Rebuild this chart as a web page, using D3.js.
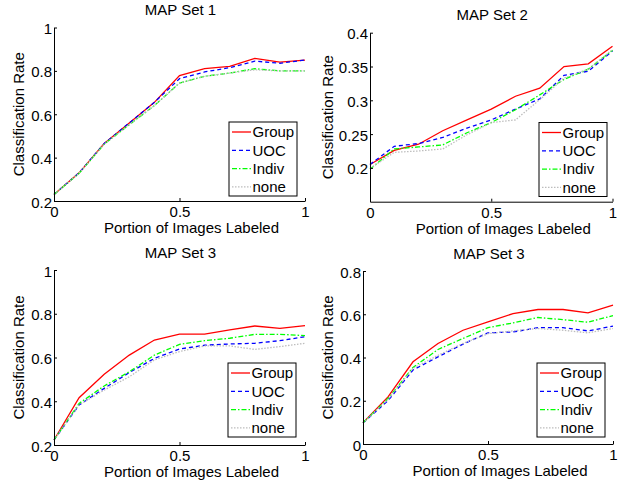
<!DOCTYPE html>
<html>
<head>
<meta charset="utf-8">
<script src="https://cdn.jsdelivr.net/npm/d3@7"></script>
<style>
  body { margin: 0; background: #fff; }
  text { font-family: "Liberation Sans", Arial, sans-serif; font-size: 15px; fill: #000; }
</style>
</head>
<body>
<svg id="chart" width="622" height="480"></svg>
<script>
// portion of images labeled
var portions = [0, 0.1, 0.2, 0.3, 0.4, 0.5, 0.6, 0.7, 0.8, 0.9, 1];
var seriesNames = ['Group', 'UOC', 'Indiv', 'none'];

// MAP Set 1
var set1Group = [0.23, 0.33, 0.465, 0.56, 0.655, 0.778, 0.81, 0.821, 0.858, 0.84, 0.85];
var set1UOC   = [0.23, 0.33, 0.465, 0.56, 0.655, 0.764, 0.795, 0.815, 0.845, 0.835, 0.85];
var set1Indiv = [0.23, 0.328, 0.462, 0.552, 0.64, 0.744, 0.775, 0.79, 0.81, 0.80, 0.80];
var set1None  = [0.23, 0.328, 0.462, 0.552, 0.64, 0.744, 0.775, 0.79, 0.805, 0.80, 0.80];

// MAP Set 2
var set2Group = [0.205, 0.226, 0.235, 0.255, 0.271, 0.287, 0.306, 0.318, 0.350, 0.354, 0.380];
var set2UOC   = [0.205, 0.232, 0.236, 0.245, 0.259, 0.271, 0.287, 0.302, 0.337, 0.343, 0.373];
var set2Indiv = [0.198, 0.228, 0.231, 0.234, 0.252, 0.267, 0.286, 0.308, 0.331, 0.346, 0.374];
var set2None  = [0.199, 0.223, 0.225, 0.228, 0.249, 0.267, 0.271, 0.301, 0.333, 0.346, 0.375];

// MAP Set 3 (left)
var set3Group = [0.223, 0.416, 0.523, 0.611, 0.68, 0.707, 0.707, 0.726, 0.744, 0.733, 0.746];
var set3UOC   = [0.223, 0.383, 0.459, 0.531, 0.596, 0.639, 0.656, 0.662, 0.665, 0.677, 0.695];
var set3Indiv = [0.223, 0.39, 0.47, 0.535, 0.611, 0.66, 0.677, 0.688, 0.706, 0.706, 0.70];
var set3None  = [0.223, 0.383, 0.451, 0.512, 0.589, 0.627, 0.653, 0.653, 0.637, 0.65, 0.665];

// MAP Set 3 (right)
var set4Group = [0.098, 0.218, 0.38, 0.465, 0.526, 0.565, 0.603, 0.622, 0.622, 0.606, 0.642];
var set4UOC   = [0.098, 0.2, 0.342, 0.403, 0.462, 0.514, 0.518, 0.538, 0.538, 0.523, 0.545];
var set4Indiv = [0.098, 0.21, 0.354, 0.437, 0.488, 0.538, 0.56, 0.585, 0.575, 0.563, 0.594];
var set4None  = [0.098, 0.206, 0.35, 0.41, 0.465, 0.51, 0.523, 0.534, 0.526, 0.514, 0.534];

var xTicks = [0, 0.5, 1];
var xTickLabels = ['0', '0.5', '1'];

var panels = [
  { title: 'MAP Set 1', series: [set1Group, set1UOC, set1Indiv, set1None],
    yDomain: [0.2, 1], yTicks: [0.2, 0.4, 0.6, 0.8, 1], yTickLabels: ['0.2', '0.4', '0.6', '0.8', '1'],
    x0: 54, x1: 305, y0: 27.5, y1: 201, yLabelGap: 30, legend: [229, 122] },
  { title: 'MAP Set 2', series: [set2Group, set2UOC, set2Indiv, set2None],
    yDomain: [0.15, 0.4], yTicks: [0.2, 0.25, 0.3, 0.35, 0.4], yTickLabels: ['0.2', '0.25', '0.3', '0.35', '0.4'],
    x0: 370, x1: 612.5, y0: 32.7, y1: 201.7, yLabelGap: 37, legend: [539, 122.5] },
  { title: 'MAP Set 3', series: [set3Group, set3UOC, set3Indiv, set3None],
    yDomain: [0.2, 1], yTicks: [0.2, 0.4, 0.6, 0.8, 1], yTickLabels: ['0.2', '0.4', '0.6', '0.8', '1'],
    x0: 54, x1: 305, y0: 270, y1: 445, yLabelGap: 30, legend: [228, 363] },
  { title: 'MAP Set 3', series: [set4Group, set4UOC, set4Indiv, set4None],
    yDomain: [0, 0.8], yTicks: [0, 0.2, 0.4, 0.6, 0.8], yTickLabels: ['0', '0.2', '0.4', '0.6', '0.8'],
    x0: 363, x1: 613, y0: 271, y1: 444, yLabelGap: 30, legend: [537, 363] }
];

var styles = [
  { color: '#ff0000', dash: null },
  { color: '#0000ff', dash: '4,3' },
  { color: '#00ff00', dash: '5,2,1.5,2' },
  { color: '#bdbdbd', dash: '1.5,1.5' }
];

var svg = d3.select('#chart');

panels.forEach(function(p) {
  var x = d3.scaleLinear().domain([0, 1]).range([p.x0, p.x1]);
  var y = d3.scaleLinear().domain(p.yDomain).range([p.y1, p.y0]);
  var g = svg.append('g');

  // title
  g.append('text')
    .attr('x', (p.x0 + p.x1) / 2 + 1)
    .attr('y', p.y0 - 12.5)
    .attr('text-anchor', 'middle')
    .text(p.title);

  // lines
  var line = d3.line()
    .x(function(d, i) { return x(portions[i]); })
    .y(function(d) { return y(d); });

  p.series.forEach(function(s, k) {
    g.append('path')
      .datum(s)
      .attr('d', line)
      .attr('fill', 'none')
      .attr('stroke', styles[k].color)
      .attr('stroke-width', 1.3)
      .attr('stroke-dasharray', styles[k].dash);
  });

  // axes (left and bottom only, ticks inward)
  var yAxis = d3.axisLeft(y).tickValues(p.yTicks)
    .tickFormat(function(d, i) { return p.yTickLabels[i]; })
    .tickSizeInner(-3).tickSizeOuter(0).tickPadding(2);
  var gy = g.append('g').attr('transform', 'translate(' + p.x0 + ',0)').call(yAxis);

  var xAxis = d3.axisBottom(x).tickValues(xTicks)
    .tickFormat(function(d, i) { return xTickLabels[i]; })
    .tickSizeInner(-3).tickSizeOuter(0).tickPadding(5);
  var gx = g.append('g').attr('transform', 'translate(0,' + p.y1 + ')').call(xAxis);

  [gx, gy].forEach(function(a) {
    a.attr('font-size', null).attr('font-family', null);
    a.selectAll('path').attr('stroke', '#000').attr('stroke-width', 1);
    a.selectAll('line').attr('stroke', '#000').attr('stroke-width', 1);
    a.selectAll('text').attr('fill', '#000');
  });
  gy.selectAll('text').attr('dy', '0.4em');
  gx.selectAll('text').attr('dy', '0.75em');

  // axis labels
  g.append('text')
    .attr('x', (p.x0 + p.x1) / 2 + 12)
    .attr('y', p.y1 + 32)
    .attr('text-anchor', 'middle')
    .text('Portion of Images Labeled');

  g.append('text')
    .attr('transform', 'translate(' + (p.x0 - p.yLabelGap) + ',' + ((p.y0 + p.y1) / 2) + ') rotate(-90)')
    .attr('text-anchor', 'middle')
    .text('Classification Rate');

  // legend
  var lx = p.legend[0], ly = p.legend[1];
  var leg = g.append('g').attr('transform', 'translate(' + lx + ',' + ly + ')');
  leg.append('rect')
    .attr('width', 68).attr('height', 74)
    .attr('fill', '#fff').attr('stroke', '#000').attr('stroke-width', 1);
  seriesNames.forEach(function(name, k) {
    var ry = 10 + k * 18.3;
    leg.append('line')
      .attr('x1', 3).attr('x2', 22).attr('y1', ry).attr('y2', ry)
      .attr('stroke', styles[k].color)
      .attr('stroke-width', 1.3)
      .attr('stroke-dasharray', styles[k].dash);
    leg.append('text')
      .attr('x', 23.5).attr('y', ry)
      .attr('dy', '0.35em')
      .text(name);
  });
});
</script>
</body>
</html>
